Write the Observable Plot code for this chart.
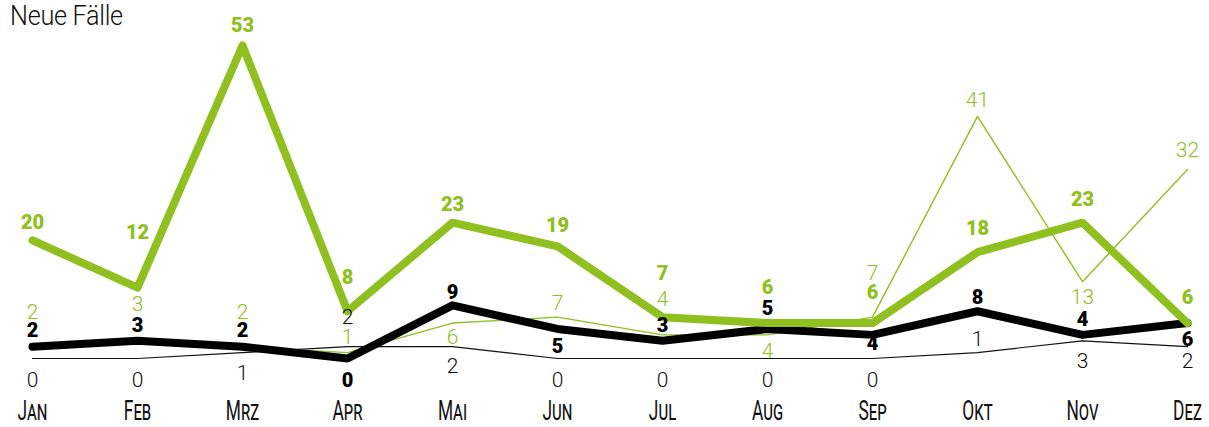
<!DOCTYPE html>
<html><head><meta charset="utf-8">
<script src="https://cdn.jsdelivr.net/npm/d3@7"></script>
<script src="https://cdn.jsdelivr.net/npm/@observablehq/plot@0.6"></script>
<style>
body{margin:0;background:#fff;}
#wrap{position:relative;width:1209px;height:427px;}
#title{position:absolute;left:10px;top:-1px;font:300 28px Roboto,sans-serif;color:#111;z-index:2;transform:scaleX(0.9);transform-origin:0 0;letter-spacing:-0.3px;}
#chart{position:absolute;left:0;top:0;}
</style></head><body>
<div id="wrap"><div id="title">Neue Fälle</div><div id="chart"></div></div>
<script>
// ---- data ----
const months = ["Jan","Feb","Mrz","Apr","Mai","Jun","Jul","Aug","Sep","Okt","Nov","Dez"];
const greenThick = [20,12,53,8,23,19,7,6,6,18,23,6];
const greenThin  = [2,3,2,1,6,7,4,4,7,41,13,32];
const blackThick = [2,3,2,0,9,5,3,5,4,8,4,6];
const blackThin  = [0,0,1,2,2,0,0,0,0,1,3,2];

// ---- label placement (pixel offsets from each point) ----
const dyGreenThick = [-18,-55,-20,-34,-18,-21,-44,-35,-30,-24,-23,-25];
const dyGreenThin  = [-34,-37,-34,-15,14,-14,-36,16,-44,-16,16,-19];
const dyBlackThick = [-16,-15,-16,22,-13,18,-15,-20,9,-14,-15,17];
const dyBlackThin  = [22,22,21,-29,20,22,22,22,22,-13,20,15];

const GREEN = "#8fc020";
const rows = s => s.map((v,i)=>({month:months[i], value:v}));

function labels(series, dys, style){
  return series.map((v,i)=>Plot.text([{month:months[i], value:v}], {
    x:"month", y:"value", text:d=>String(d.value), dy:dys[i], ...style
  }));
}
const thinStyle = c => ({fill:c, fontFamily:"Roboto", fontWeight:300, fontSize:21});
const boldStyle = c => ({fill:c, fontFamily:"Roboto", fontWeight:900, fontSize:20});

const chart = Plot.plot({
  width:1209, height:427,
  marginLeft:30, marginRight:21, marginTop:45, marginBottom:69,
  x:{type:"point", domain:months, padding:0},
  y:{domain:[0,53], axis:null},
  marks:[
    Plot.axisX({label:null, tickSize:0, tickPadding:42, fontSize:28, fontFamily:"Roboto", fill:"#111"}),
    Plot.line(rows(blackThin), {x:"month", y:"value", stroke:"#111", strokeWidth:1.2}),
    Plot.line(rows(greenThin), {x:"month", y:"value", stroke:GREEN, strokeWidth:1.4}),
    Plot.line(rows(blackThick), {x:"month", y:"value", stroke:"#000", strokeWidth:8, strokeLinecap:"round", strokeLinejoin:"round"}),
    Plot.line(rows(greenThick), {x:"month", y:"value", stroke:GREEN, strokeWidth:8, strokeLinecap:"round", strokeLinejoin:"round"}),
    ...labels(blackThin, dyBlackThin, thinStyle("#111")),
    ...labels(greenThin, dyGreenThin, thinStyle(GREEN)),
    ...labels(blackThick, dyBlackThick, boldStyle("#000")),
    ...labels(greenThick, dyGreenThick, boldStyle(GREEN)),
  ]
});
document.getElementById("chart").appendChild(chart);
// condensed small-caps month labels
d3.select(chart).selectAll('g[aria-label="x-axis tick label"] text').each(function(){
  const t = d3.select(this);
  t.style("font-variant","small-caps").style("font-weight","400");
  const tr = t.attr("transform") || "";
  t.attr("transform", tr + " scale(0.62,1)");
});
</script>
</body></html>
